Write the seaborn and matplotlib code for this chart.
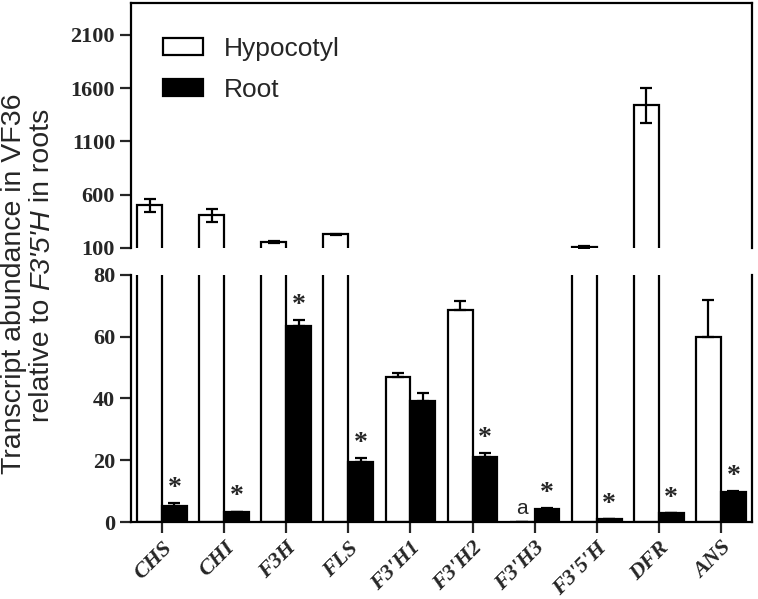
import pandas as pd
import matplotlib.pyplot as plt
import seaborn as sns

# Values (broken y axis: 0-80 and 100-2400)
genes = ["CHS", "CHI", "F3H", "FLS", "F3'H1", "F3'H2", "F3'H3", "F3'5'H", "DFR", "ANS"]
hypocotyl = [500, 405, 154, 229, 47.0, 68.7, 0, 112, 1440, 60.0]
hypocotyl_err = [58, 60, 8, 4, 1.2, 3.0, 0, 10, 165, 12.0]
root = [5.3, 3.1, 63.4, 19.3, 39.1, 21.0, 4.1, 1.0, 2.8, 9.6]
root_err = [0.8, 0.3, 2.0, 1.5, 2.7, 1.4, 0.5, 0.1, 0.2, 0.5]
root_sig = [True, True, True, True, False, True, True, True, True, True]
tissues = ["Hypocotyl", "Root"]

df = pd.DataFrame({
    "gene": genes * 2,
    "tissue": ["Hypocotyl"] * len(genes) + ["Root"] * len(genes),
    "value": hypocotyl + root,
})

sns.set_style("ticks")
plt.rcParams["font.family"] = ["Liberation Sans", "DejaVu Sans"]

fig = plt.figure(figsize=(7.58, 5.99), dpi=100)
ax_top = fig.add_axes([0.1728, 0.586, 0.8192, 0.409])
ax_bot = fig.add_axes([0.1728, 0.1285, 0.8192, 0.4125])

pal = {"Hypocotyl": "white", "Root": "black"}
lw = 1.6
tick_font = dict(fontfamily="Liberation Serif", fontweight="bold", fontsize=16)

for ax in (ax_top, ax_bot):
    sns.barplot(data=df, x="gene", y="value", hue="tissue", hue_order=tissues,
                order=genes, palette=pal, saturation=1, edgecolor="black",
                linewidth=lw, width=0.8, errorbar=None, ax=ax)
    ax.set_xlabel("")
    ax.set_ylabel("")
    for s in ax.spines.values():
        s.set_linewidth(lw)
        s.set_color("black")
    ax.tick_params(axis="y", length=8, width=lw, direction="out")

# error bars, symmetric on the top panel, upper only on the lower panel
for ax, full in ((ax_top, True), (ax_bot, False)):
    for cont, vals, errs in zip(ax.containers, (hypocotyl, root), (hypocotyl_err, root_err)):
        xs = [b.get_x() + b.get_width() / 2 for b in cont]
        lo = errs if full else [0] * len(errs)
        ax.errorbar(xs, vals, yerr=[lo, errs], fmt="none", ecolor="black",
                    elinewidth=lw, capsize=4.5, capthick=lw, zorder=3)
    ax.set_xlim(-0.5, len(genes) - 0.5)

# top panel
ax_top.set_ylim(100, 2400)
ax_top.set_yticks([100, 600, 1100, 1600, 2100])
ax_top.set_yticklabels(["100", "600", "1100", "1600", "2100"], **tick_font)
ax_top.spines["bottom"].set_visible(False)
ax_top.tick_params(axis="x", bottom=False, labelbottom=False)
handles, labels = ax_top.get_legend_handles_labels()
ax_top.legend(handles, labels, loc="upper left", bbox_to_anchor=(0.035, 0.905),
              frameon=False, fontsize=19, handlelength=1.5, handleheight=0.6,
              handletextpad=0.8, labelspacing=0.65, borderaxespad=0)

# bottom panel
ax_bot.set_ylim(0, 80)
ax_bot.set_yticks([0, 20, 40, 60, 80])
ax_bot.set_yticklabels(["0", "20", "40", "60", "80"], **tick_font)
ax_bot.spines["top"].set_visible(False)
ax_bot.get_legend().remove()
ax_bot.tick_params(axis="x", length=8, width=lw, direction="out")
ax_bot.set_xticks(range(len(genes)))
ax_bot.set_xticklabels(genes, rotation=45, ha="right", rotation_mode="anchor",
                       fontstyle="italic", **tick_font)

# significance marks over root bars
root_bars = ax_bot.containers[1]
for bar, v, e, sig in zip(root_bars, root, root_err, root_sig):
    if sig:
        ax_bot.annotate("*", xy=(bar.get_x() + bar.get_width() / 2, v + e),
                        xytext=(0, 10.5), textcoords="offset points",
                        ha="center", va="center", fontsize=20,
                        fontfamily="Liberation Serif", fontweight="bold")

# "a" for the undetected F3'H3 hypocotyl transcript
hyp_bars = ax_bot.containers[0]
b = hyp_bars[genes.index("F3'H3")]
ax_bot.annotate("a", xy=(b.get_x() + b.get_width() / 2, 0), xytext=(0, 3),
                textcoords="offset points", ha="center", va="bottom", fontsize=15)

# y label, second line has an italic gene name
label_size = 20.5
fig.text(21 / 758, 1 - 284 / 599, "Transcript abundance in VF36", rotation=90,
         ha="center", va="baseline", fontsize=label_size, rotation_mode="anchor")
fig.canvas.draw()
renderer = fig.canvas.get_renderer()
pieces = [("relative to ", "normal"), ("F3'5'H", "italic"), (" in roots", "normal")]
widths = []
for txt, style in pieces:
    t = fig.text(0, 0, txt, fontsize=label_size, fontstyle=style)
    widths.append(t.get_window_extent(renderer).width)
    t.remove()
y0 = (599 - 265) - sum(widths) / 2
x_base = 49
for (txt, style), w in zip(pieces, widths):
    fig.text(x_base / 758, y0 / 599, txt, rotation=90, rotation_mode="anchor",
             ha="left", va="baseline", fontsize=label_size, fontstyle=style)
    y0 += w

fig.savefig("out.png", dpi=100)
